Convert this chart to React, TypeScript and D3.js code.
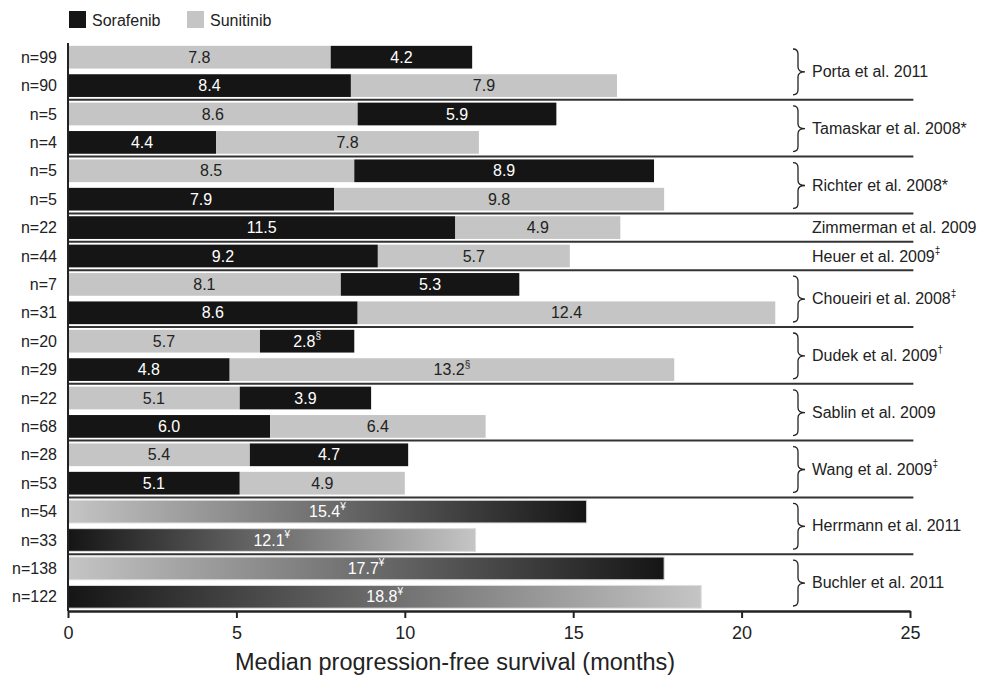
import { useEffect, useRef } from "react";
import * as d3 from "d3";

const W = 987;
const H = 680;
const LEFT = 68;
const RIGHT = 910;
const TOP = 43;
const BOTTOM = 611;

const SORA = "#151515";
const SUNI = "#c4c5c4";
const INK = "#222";
const FONT = '"Liberation Sans", Arial, Helvetica, sans-serif';

const X_TICKS = [0, 5, 10, 15, 20, 25];
const X_TITLE = "Median progression-free survival (months)";

const SAMPLE_SIZES = [
  "n=99", "n=90", "n=5", "n=4", "n=5", "n=5", "n=22", "n=44", "n=7", "n=31",
  "n=20", "n=29", "n=22", "n=68", "n=28", "n=53", "n=54", "n=33", "n=138", "n=122",
];

// which drug was given first in each row
const FIRST_DRUG = [
  "Sunitinib", "Sorafenib", "Sunitinib", "Sorafenib", "Sunitinib", "Sorafenib",
  "Sorafenib", "Sorafenib", "Sunitinib", "Sorafenib", "Sunitinib", "Sorafenib",
  "Sunitinib", "Sorafenib", "Sunitinib", "Sorafenib", "Sunitinib", "Sorafenib",
  "Sunitinib", "Sorafenib",
];

const FIRST_VALUES = [7.8, 8.4, 8.6, 4.4, 8.5, 7.9, 11.5, 9.2, 8.1, 8.6, 5.7, 4.8, 5.1, 6.0, 5.4, 5.1];
const SECOND_VALUES = [4.2, 7.9, 5.9, 7.8, 8.9, 9.8, 4.9, 5.7, 5.3, 12.4, 2.8, 13.2, 3.9, 6.4, 4.7, 4.9];
const FIRST_NOTES = ["", "", "", "", "", "", "", "", "", "", "", "", "", "", "", ""];
const SECOND_NOTES = ["", "", "", "", "", "", "", "", "", "", "§", "§", "", "", "", ""];

// sequential therapy reported as one combined PFS
const COMBINED_VALUES = [15.4, 12.1, 17.7, 18.8];
const COMBINED_NOTE = "¥";

const STUDY_NAMES = [
  "Porta et al. 2011", "Tamaskar et al. 2008*", "Richter et al. 2008*",
  "Zimmerman et al. 2009", "Heuer et al. 2009", "Choueiri et al. 2008",
  "Dudek et al. 2009", "Sablin et al. 2009", "Wang et al. 2009",
  "Herrmann et al. 2011", "Buchler et al. 2011",
];
const STUDY_MARKS = ["", "", "", "", "‡", "‡", "†", "", "‡", "", ""];
const STUDY_ROWS = [2, 2, 2, 1, 1, 2, 2, 2, 2, 2, 2];

const x = d3.scaleLinear().domain([0, 25]).range([LEFT, RIGHT]);
const y = d3
  .scaleBand<number>()
  .domain(d3.range(SAMPLE_SIZES.length))
  .range([TOP, BOTTOM])
  .paddingInner(0.2)
  .paddingOuter(0.1);

const colorOf = (drug: string) => (drug === "Sorafenib" ? SORA : SUNI);
const textOn = (drug: string) => (drug === "Sorafenib" ? "#fff" : INK);

function rowTop(i: number) {
  return (y(i) ?? 0) - y.step() * 0.1;
}

function Label({ cx, cy, value, note, fill }: { cx: number; cy: number; value: string; note: string; fill: string }) {
  return (
    <text x={cx} y={cy} textAnchor="middle" dominantBaseline="central" fill={fill} fontSize={16} fontFamily={FONT}>
      {value}
      {note ? (
        <tspan fontSize={10} dy={-6}>
          {note}
        </tspan>
      ) : null}
    </text>
  );
}

function brace(x0: number, top: number, bot: number) {
  const x1 = x0 + 5;
  const x2 = x0 + 12;
  const mid = (top + bot) / 2;
  const r = 5;
  return `M${x0},${top} Q${x1},${top} ${x1},${top + r} L${x1},${mid - r} Q${x1},${mid} ${x2},${mid} Q${x1},${mid} ${x1},${mid + r} L${x1},${bot - r} Q${x1},${bot} ${x0},${bot}`;
}

export default function App() {
  const axisRef = useRef<SVGGElement>(null);

  useEffect(() => {
    const g = d3.select(axisRef.current);
    g.selectAll("*").remove();
    g.call(d3.axisBottom(x).tickValues(X_TICKS).tickSize(7).tickSizeOuter(0).tickPadding(8))
      .call((a) => a.select(".domain").attr("stroke", INK).attr("stroke-width", 2.5))
      .call((a) => a.selectAll(".tick line").attr("stroke", INK).attr("stroke-width", 2))
      .call((a) =>
        a.selectAll(".tick text").attr("fill", INK).attr("font-size", 18).attr("font-family", FONT)
      );
  }, []);

  const bh = y.bandwidth();

  // group boundaries
  const groupStarts: number[] = [];
  let acc = 0;
  STUDY_ROWS.forEach((n) => {
    groupStarts.push(acc);
    acc += n;
  });

  return (
    <svg
      width={W}
      height={H}
      style={{ position: "fixed", left: 0, top: 0, background: "#fff" }}
      fontFamily={FONT}
    >
      <defs>
        <linearGradient id="lightToDark" x1="0" x2="1" y1="0" y2="0">
          <stop offset="0%" stopColor={SUNI} />
          <stop offset="100%" stopColor={SORA} />
        </linearGradient>
        <linearGradient id="darkToLight" x1="0" x2="1" y1="0" y2="0">
          <stop offset="0%" stopColor={SORA} />
          <stop offset="100%" stopColor={SUNI} />
        </linearGradient>
      </defs>

      {/* legend */}
      <rect x={69} y={11} width={17} height={17} fill={SORA} />
      <text x={92} y={20} dominantBaseline="central" fontSize={16} fill={INK}>
        Sorafenib
      </text>
      <rect x={187} y={11} width={17} height={17} fill={SUNI} />
      <text x={210} y={20} dominantBaseline="central" fontSize={16} fill={INK}>
        Sunitinib
      </text>

      {/* stacked sequential bars */}
      {FIRST_VALUES.map((v1, i) => {
        const v2 = SECOND_VALUES[i];
        const d1 = FIRST_DRUG[i];
        const d2 = d1 === "Sorafenib" ? "Sunitinib" : "Sorafenib";
        const top = y(i) ?? 0;
        return (
          <g key={`r${i}`}>
            <rect x={x(0)} y={top} width={x(v1) - x(0)} height={bh} fill={colorOf(d1)} />
            <rect x={x(v1)} y={top} width={x(v1 + v2) - x(v1)} height={bh} fill={colorOf(d2)} />
            <Label cx={(x(0) + x(v1)) / 2} cy={top + bh / 2} value={v1.toFixed(1)} note={FIRST_NOTES[i]} fill={textOn(d1)} />
            <Label cx={(x(v1) + x(v1 + v2)) / 2} cy={top + bh / 2} value={v2.toFixed(1)} note={SECOND_NOTES[i]} fill={textOn(d2)} />
          </g>
        );
      })}

      {/* combined PFS bars */}
      {COMBINED_VALUES.map((v, k) => {
        const i = FIRST_VALUES.length + k;
        const top = y(i) ?? 0;
        const grad = FIRST_DRUG[i] === "Sunitinib" ? "lightToDark" : "darkToLight";
        return (
          <g key={`c${k}`}>
            <rect x={x(0)} y={top} width={x(v) - x(0)} height={bh} fill={`url(#${grad})`} stroke="#ddd" strokeWidth={1} />
            <Label cx={(x(0) + x(v)) / 2} cy={top + bh / 2} value={v.toFixed(1)} note={COMBINED_NOTE} fill="#fff" />
          </g>
        );
      })}

      {/* sample size labels */}
      {SAMPLE_SIZES.map((s, i) => (
        <text key={`n${i}`} x={57} y={(y(i) ?? 0) + bh / 2} textAnchor="end" dominantBaseline="central" fontSize={16} fill={INK}>
          {s}
        </text>
      ))}

      {/* group separators */}
      {groupStarts.slice(1).map((r, k) => (
        <line key={`s${k}`} x1={LEFT} x2={x(25.1)} y1={rowTop(r)} y2={rowTop(r)} stroke="#333" strokeWidth={2} />
      ))}

      {/* study labels and braces */}
      {STUDY_NAMES.map((name, k) => {
        const start = groupStarts[k];
        const n = STUDY_ROWS[k];
        const top = rowTop(start);
        const bot = top + n * y.step();
        const mid = (top + bot) / 2;
        return (
          <g key={`st${k}`}>
            {n > 1 ? <path d={brace(793, top + 6, bot - 5)} fill="none" stroke={INK} strokeWidth={1.3} /> : null}
            <text x={812} y={mid} dominantBaseline="central" fontSize={16} fill={INK}>
              {name}
              {STUDY_MARKS[k] ? (
                <tspan fontSize={10} dy={-6}>
                  {STUDY_MARKS[k]}
                </tspan>
              ) : null}
            </text>
          </g>
        );
      })}

      {/* left axis line */}
      <line x1={LEFT} x2={LEFT} y1={TOP} y2={BOTTOM} stroke={INK} strokeWidth={2} />

      <g ref={axisRef} transform={`translate(0,${BOTTOM})`} />

      <text x={(LEFT + RIGHT) / 2 - 34} y={670} textAnchor="middle" fontSize={23.5} fill={INK}>
        {X_TITLE}
      </text>
    </svg>
  );
}
